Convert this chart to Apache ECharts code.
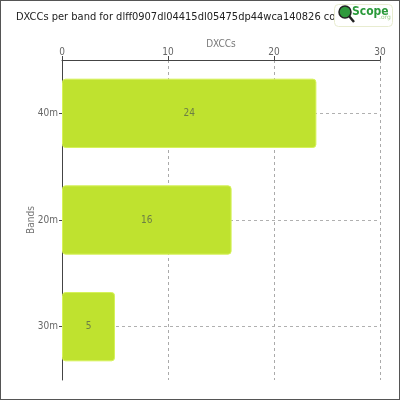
<!DOCTYPE html>
<html><head><meta charset="utf-8">
<script src="https://cdn.jsdelivr.net/npm/echarts@6/dist/echarts.min.js"></script>
<style>html,body{margin:0;padding:0;background:#fff}#c{width:400px;height:400px;box-sizing:border-box;border:1px solid #555}</style>
</head><body><div id="c"></div>
<script>
var titleText = 'DXCCs per band for dlff0907dl04415dl05475dp44wca140826 combined';
var bands = ['40m', '20m', '30m'];
var dxccs = [24, 16, 5];
var xTicks = {min: 0, max: 30, interval: 10};
var FONT = 'DejaVu Sans Condensed';
var chart = echarts.init(document.getElementById('c'), null, {renderer: 'canvas'});
chart.setOption({
  animation: false,
  textStyle: {fontFamily: FONT},
  title: {text: titleText, left: 10, top: 6, textStyle: {fontFamily: FONT, fontSize: 11, fontWeight: 'normal', color: '#222'}},
  grid: {left: 61, right: 19, top: 59, bottom: 19, containLabel: false},
  xAxis: {
    type: 'value', position: 'top', min: xTicks.min, max: xTicks.max, interval: xTicks.interval,
    name: 'DXCCs', nameLocation: 'middle', nameGap: 11, nameMoveOverlap: false,
    nameTextStyle: {color: '#777', fontSize: 10, fontFamily: FONT},
    axisLine: {show: true, lineStyle: {color: '#444', width: 1}},
    axisTick: {show: true, length: 4, lineStyle: {color: '#444'}},
    axisLabel: {color: '#666', fontSize: 10, margin: 3, fontFamily: FONT},
    splitLine: {show: true, lineStyle: {color: '#aaa', type: [3, 3], width: 1}}
  },
  yAxis: {
    type: 'category', data: bands, inverse: true,
    name: 'Bands', nameLocation: 'middle', nameGap: 26, nameMoveOverlap: false,
    nameTextStyle: {color: '#777', fontSize: 10, fontFamily: FONT},
    axisLine: {show: true, lineStyle: {color: '#444', width: 1}},
    axisTick: {show: true, alignWithLabel: true, length: 3, lineStyle: {color: '#444'}},
    axisLabel: {color: '#666', fontSize: 10, margin: 4, fontFamily: FONT},
    splitLine: {show: false}
  },
  series: [
    {
      type: 'line', data: [], z: 1, silent: true,
      markLine: {
        silent: true, symbol: 'none', label: {show: false}, z: 1,
        lineStyle: {color: '#b0b0b0', type: [3, 3], width: 1},
        data: bands.map(function (b) { return {yAxis: b}; })
      }
    },
    {
      type: 'bar', data: dxccs, barWidth: '65%', z: 3,
      itemStyle: {color: '#bfe22f', borderColor: '#d6f25a', borderWidth: 1, borderRadius: 3},
      label: {show: true, position: 'inside', color: '#6d7f45', fontSize: 10, fontFamily: FONT}
    }
  ],
  graphic: [
    {type: 'rect', left: 333, top: 3, z: 100, shape: {width: 58, height: 22, r: 4}, style: {fill: '#fff', stroke: '#e8ecd0', lineWidth: 1}},
    {type: 'circle', z: 101, shape: {cx: 344, cy: 11, r: 6}, style: {fill: '#2f9a3c', stroke: '#222', lineWidth: 1.5}},
    {type: 'line', z: 101, shape: {x1: 348, y1: 15, x2: 353, y2: 21}, style: {stroke: '#222', lineWidth: 2.5}},
    {type: 'text', z: 101, left: 351, top: 5, style: {text: 'Scope', fill: '#2a9a3a', font: 'bold 12px "DejaVu Sans Condensed"'}},
    {type: 'text', z: 101, left: 378, top: 13, style: {text: '.org', fill: '#9bcf8a', font: '6px "DejaVu Sans"'}}
  ]
});
</script></body></html>
